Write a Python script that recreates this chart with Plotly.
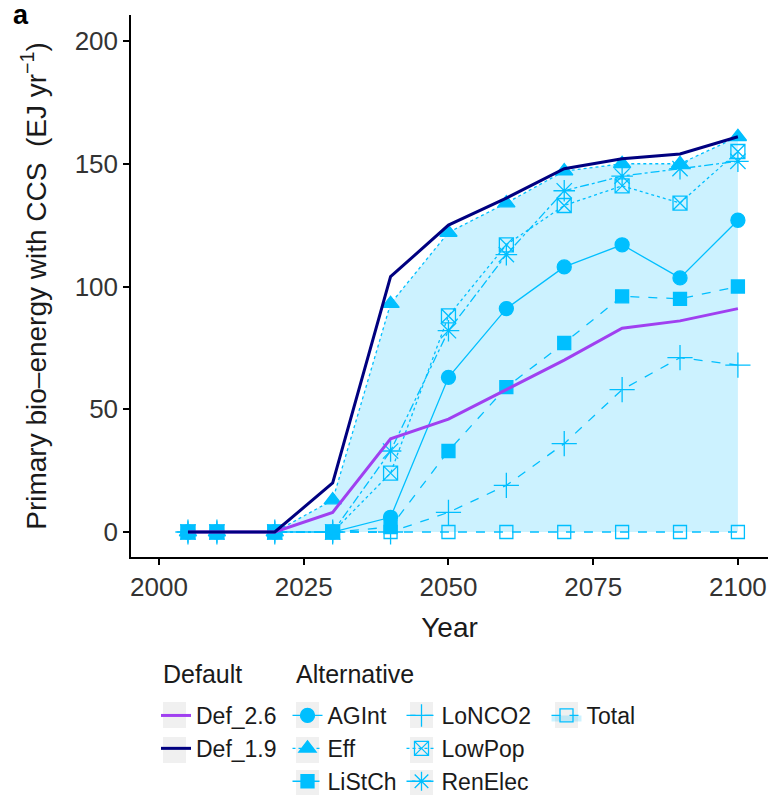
import plotly.graph_objects as go

years = [2005, 2010, 2020, 2030, 2040, 2050, 2060, 2070, 2080, 2090, 2100]

def_26 = [0, 0, 0, 8, 38, 46, 58, 70, 83, 86, 91]
def_19 = [0, 0, 0, 20, 104, 125, 136, 148, 152, 154, 161]

agint   = [0, 0, 0, 0, 6, 63, 91, 108, 117, 103.5, 127]
eff     = [0, 0, 0, 13, 93, 122, 134, 147, 150, 150, 161]
listch  = [0, 0, 0, 0, 2, 33, 59, 77, 96, 95, 100]
lonco2  = [0, 0, 0, 0, 0, 8, 19, 36, 58, 71, 68]
lowpop  = [0, 0, 0, 0, 24, 88, 117, 133, 141, 134, 155]
renelec = [0, 0, 0, 0, 33, 82, 113, 139, 145, 148, 151]
total   = [0, 0, 0, 0, 0, 0, 0, 0, 0, 0, 0]

y_ticks = [0, 50, 100, 150, 200]
x_ticks = [2000, 2025, 2050, 2075, 2100]

ALT = "#00BFFF"
FILL = "rgba(0,191,255,0.2)"
FONT = "Liberation Sans, Arial, sans-serif"

W, H = 773, 795
L, R, T, B = 131, 773 - 768, 15, 795 - 557
PW, PH = W - L - R, H - T - B


def px(xp):
    return (xp - L) / PW


def py(yp):
    return (H - B - yp) / PH


alts = [
    ("AGInt", agint, "circle", "solid", 14, "legend2"),
    ("Eff", eff, "triangle-up", "dot", 15, "legend2"),
    ("LiStCh", listch, "square", "dash", 13, "legend2"),
    ("LoNCO2", lonco2, "cross-thin-open", "dash", 18, "legend3"),
    ("LowPop", lowpop, "square-x-open", "dot", 14, "legend3"),
    ("RenElec", renelec, "asterisk-open", "dashdot", 18, "legend3"),
]

all_alt = [a[1] for a in alts] + [total]
upper = [max(v) for v in zip(*all_alt)]

fig = go.Figure()

# ribbon upper bound (max of alternatives)
fig.add_trace(go.Scatter(x=years, y=upper, mode="lines", line=dict(width=0, color=FILL),
                         showlegend=False, hoverinfo="skip"))
# Total, filling up to the upper bound
fig.add_trace(go.Scatter(x=years, y=total, name="Total", mode="lines+markers",
                         fill="tonexty", fillcolor=FILL,
                         line=dict(color=ALT, width=1.3, dash="dash"),
                         marker=dict(symbol="square-open", size=13, color=ALT, line=dict(width=1.3, color=ALT)),
                         legend="legend4"))

for name, vals, sym, dash, size, lg in alts:
    fig.add_trace(go.Scatter(x=years, y=vals, name=name, mode="lines+markers",
                             line=dict(color=ALT, width=1.3, dash=dash),
                             marker=dict(symbol=sym, size=size, color=ALT, line=dict(width=1.3, color=ALT)),
                             legend=lg))

fig.add_trace(go.Scatter(x=years, y=def_26, name="Def_2.6", mode="lines",
                         line=dict(color="#A040F0", width=3), legend="legend"))
fig.add_trace(go.Scatter(x=years, y=def_19, name="Def_1.9", mode="lines",
                         line=dict(color="#000080", width=3), legend="legend"))

leg_y = py(694)
leg_common = dict(font=dict(family=FONT, size=23, color="#1a1a1a"), bgcolor="rgba(0,0,0,0)",
                  xanchor="left", yanchor="top", orientation="v", tracegroupgap=0,
                  itemwidth=30, y=leg_y)

# grey legend-key backgrounds (ggplot style)
key_boxes = [(163, 702), (163, 737), (296, 702), (296, 737), (296, 770),
             (410, 702), (410, 737), (410, 770), (555, 702)]
shapes = [dict(type="rect", xref="paper", yref="paper",
               x0=px(x0), x1=px(x0 + 23), y0=py(y0 + 26), y1=py(y0),
               fillcolor="#F0F0F0", line=dict(width=0), layer="above")
          for x0, y0 in key_boxes]

fig.update_layout(
    width=W, height=H,
    margin=dict(l=L, r=R, t=T, b=B, autoexpand=False),
    paper_bgcolor="white", plot_bgcolor="white",
    font=dict(family=FONT, size=24, color="#1a1a1a"),
    xaxis=dict(range=[1995.16, 2105.2], tickvals=x_ticks, showgrid=False, zeroline=False,
               showline=True, linecolor="black", linewidth=1.5, ticks="outside",
               ticklen=6, tickwidth=2, tickcolor="black",
               tickfont=dict(size=26, color="#333333"),
               title=dict(text="Year", font=dict(size=28, color="#1a1a1a"), standoff=16)),
    yaxis=dict(range=[-10.18, 210.6], tickvals=y_ticks, showgrid=False, zeroline=False,
               showline=True, linecolor="black", linewidth=1.5, ticks="outside",
               ticklen=6, tickwidth=2, tickcolor="black",
               tickfont=dict(size=26, color="#333333"),
               title=dict(text="Primary bio\u2013energy with CCS  (EJ yr<sup>\u22121</sup>)",
                          font=dict(size=28, color="#1a1a1a"), standoff=20)),
    legend=dict(x=px(156), **leg_common),
    legend2=dict(x=px(287.5), **leg_common),
    legend3=dict(x=px(401.5), **leg_common),
    legend4=dict(x=px(546.5), **leg_common),
    shapes=shapes,
    annotations=[
        dict(text="<b>a</b>", xref="paper", yref="paper", x=px(11), y=py(15),
             xanchor="left", yanchor="middle", showarrow=False,
             font=dict(size=27, color="black")),
        dict(text="Default", xref="paper", yref="paper", x=px(161), y=py(674),
             xanchor="left", yanchor="middle", showarrow=False,
             font=dict(size=25, color="#1a1a1a")),
        dict(text="Alternative", xref="paper", yref="paper", x=px(294), y=py(674),
             xanchor="left", yanchor="middle", showarrow=False,
             font=dict(size=25, color="#1a1a1a")),
    ],
)

fig.write_html("out.html")
